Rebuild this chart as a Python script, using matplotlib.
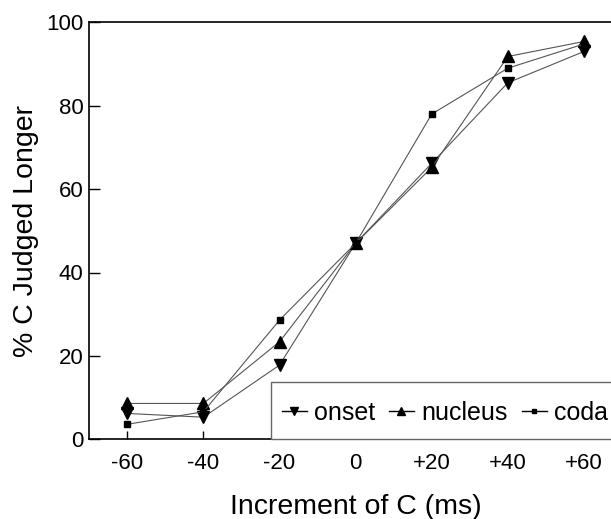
import matplotlib
matplotlib.use("Agg")
import matplotlib.pyplot as plt
from matplotlib.patches import Rectangle
from matplotlib.lines import Line2D

plt.rcParams['font.family'] = ['Liberation Sans', 'DejaVu Sans']

increments = [-60, -40, -20, 0, 20, 40, 60]
tick_labels = ['-60', '-40', '-20', '0', '+20', '+40', '+60']
onset = [6.2, 5.3, 17.8, 47.0, 66.2, 85.5, 93.0]
nucleus = [8.6, 8.6, 23.4, 47.0, 65.2, 91.8, 95.4]
coda = [3.6, 6.6, 28.6, 47.0, 78.0, 89.0, 94.8]

fig = plt.figure(figsize=(6.11, 5.19), dpi=100)
ax = fig.add_axes([89.3 / 611, 1 - 439.3 / 519, 532.7 / 611, 417 / 519])

line_kw = dict(color='#555555', linewidth=0.8, markerfacecolor='black',
               markeredgecolor='black')
series = [
    (onset, 'v', 8, 'onset'),
    (nucleus, '^', 8, 'nucleus'),
    (coda, 's', 5, 'coda'),
]
for values, mk, ms, name in series:
    ax.plot(increments, values, marker=mk, markersize=ms, label=name,
            **line_kw)

ax.set_xlim(-70, 70)
ax.set_ylim(0, 100)
ax.set_xticks(increments)
ax.set_xticklabels(tick_labels)
ax.set_yticks([0, 20, 40, 60, 80, 100])
ax.tick_params(axis='x', direction='in', length=5.5, width=1, labelsize=16,
               pad=10)
ax.tick_params(axis='y', direction='in', length=7.7, width=1, labelsize=16,
               pad=4)
for s in ax.spines.values():
    s.set_linewidth(1.2)

ax.set_xlabel('Increment of C (ms)', fontsize=20.5, labelpad=14)
ax.set_ylabel('% C Judged Longer', fontsize=20.5, labelpad=5.5)

# legend box running off the right edge
box = Rectangle((0.3405, 0.0), 1.0, 0.138, transform=ax.transAxes,
                facecolor='white', edgecolor='#666666', linewidth=1.0,
                clip_on=False, zorder=4)
ax.add_patch(box)

handles = [Line2D([], [], color='black', linewidth=1.0, marker=mk,
                  markersize=ms * 0.7, markerfacecolor='black',
                  markeredgecolor='black')
           for _, mk, ms, _ in series]
labels = [name for *_, name in series]
leg = ax.legend(handles, labels, loc='center left',
                bbox_to_anchor=(0.361, 0.063), ncol=3, borderaxespad=0,
                borderpad=0, fontsize=18, handlelength=1.0,
                handletextpad=0.3, columnspacing=0.55, frameon=False)
leg.set_zorder(5)

fig.savefig('out.png', dpi=100)
